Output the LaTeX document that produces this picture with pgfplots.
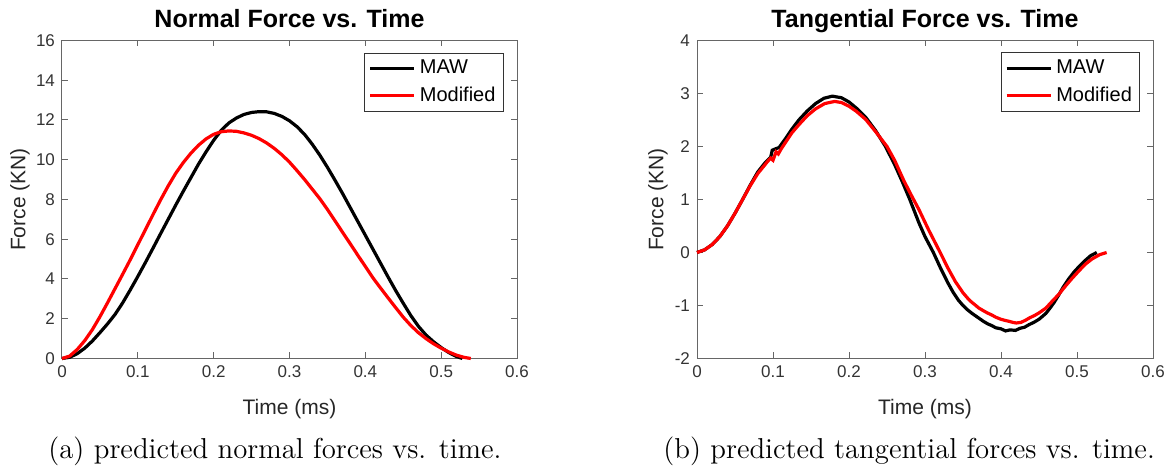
\documentclass[border=0pt]{standalone}
\usepackage{fontspec}
\usepackage{pgfplots}
\pgfplotsset{compat=1.18}
\newfontfamily\arial{Liberation Sans}
\definecolor{mred}{RGB}{255,0,0}
\pgfplotsset{mstyle/.style={
  scale only axis, height=159pt, clip=false,
  xmin=0, xmax=0.6,
  xtick={0,0.1,0.2,0.3,0.4,0.5,0.6},
  xticklabels={0,0.1,0.2,0.3,0.4,0.5,0.6},
  axis line style={black!60, line width=0.5pt},
  tick style={black!60, line width=0.5pt},
  major tick length=3pt,
  tick align=inside, xtick pos=both, ytick pos=both,
  ticklabel style={font=\arial\fontsize{8.5}{10}\selectfont, text=black!80},
  /pgf/number format/assume math mode=true,
  label style={font=\arial\fontsize{10.5}{12}\selectfont, text=black!85},
  xlabel style={at={([yshift=-28pt]axis description cs:0.5,0)}, anchor=base},
  every axis title/.style={font=\arial\bfseries\fontsize{12.5}{14}\selectfont, at={(axis description cs:0.5,1)}, anchor=base, yshift=6.5pt},
  legend style={draw=black!80, line width=0.5pt, fill=white,
     font=\arial\fontsize{10}{12}\selectfont, inner xsep=2pt, inner ysep=1.5pt,
     row sep=1pt, /tikz/every even column/.append style={column sep=2pt}},
  legend cell align=left,
  legend image code/.code={\draw[#1] (0pt,0pt) -- (22pt,0pt);},
  every axis plot/.append style={line width=1.6pt}
}}
\begin{document}
\begin{tikzpicture}
\useasboundingbox (0,0) rectangle (583.5pt,233pt);
\begin{axis}[mstyle, at={(31pt,53.75pt)}, anchor=south west, width=227.5pt,
  ymin=0, ymax=16, ytick={0,2,4,6,8,10,12,14,16},
  yticklabels={0,2,4,6,8,10,12,14,16},
  ylabel style={at={([xshift=-21pt]axis description cs:0,0.5)}, anchor=center},
  title={Normal Force vs. Time}, xlabel={Time (ms)}, ylabel={Force (KN)},
  legend style={at={(0.9714,0.962)}, anchor=north east}]
\addplot[black] coordinates {
(0,0) (0.01,0.06) (0.02,0.24) (0.03,0.52) (0.04,0.88) (0.05,1.30) (0.06,1.74)
(0.07,2.22) (0.08,2.80) (0.09,3.45) (0.10,4.13) (0.11,4.83) (0.12,5.55) (0.13,6.28)
(0.14,7.00) (0.15,7.72) (0.16,8.42) (0.17,9.10) (0.18,9.78) (0.19,10.40) (0.20,10.98)
(0.21,11.48) (0.22,11.85) (0.23,12.10) (0.24,12.28) (0.25,12.38) (0.26,12.42) (0.27,12.41)
(0.28,12.33) (0.29,12.18) (0.30,11.96) (0.31,11.66) (0.32,11.27) (0.33,10.78) (0.34,10.23)
(0.35,9.62) (0.36,8.97) (0.37,8.30) (0.38,7.60) (0.39,6.90) (0.40,6.20) (0.41,5.50)
(0.42,4.80) (0.43,4.10) (0.44,3.42) (0.45,2.78) (0.46,2.16) (0.47,1.62) (0.48,1.18)
(0.49,0.84) (0.50,0.55) (0.51,0.30) (0.52,0.10) (0.528,0)};
\addlegendentry{MAW}
\addplot[mred] coordinates {
(0,0) (0.01,0.12) (0.02,0.45) (0.03,0.90) (0.04,1.45) (0.05,2.10) (0.06,2.80)
(0.07,3.52) (0.08,4.24) (0.09,4.97) (0.10,5.73) (0.11,6.48) (0.12,7.24) (0.13,7.98)
(0.14,8.68) (0.15,9.32) (0.16,9.86) (0.17,10.33) (0.18,10.73) (0.19,11.05) (0.20,11.28)
(0.21,11.41) (0.22,11.45) (0.23,11.43) (0.24,11.35) (0.25,11.23) (0.26,11.06) (0.27,10.84)
(0.28,10.57) (0.29,10.25) (0.30,9.88) (0.31,9.45) (0.32,9.00) (0.33,8.52) (0.34,8.04)
(0.35,7.50) (0.36,6.93) (0.37,6.35) (0.38,5.78) (0.39,5.20) (0.40,4.63) (0.41,4.06)
(0.42,3.55) (0.43,3.05) (0.44,2.56) (0.45,2.08) (0.46,1.66) (0.47,1.30) (0.48,1.00)
(0.49,0.74) (0.50,0.52) (0.51,0.33) (0.52,0.17) (0.53,0.06) (0.539,0)};
\addlegendentry{Modified}
\end{axis}
\begin{axis}[mstyle, at={(348.5pt,53.75pt)}, anchor=south west, width=228pt,
  ymin=-2, ymax=4, ytick={-2,-1,0,1,2,3,4},
  yticklabels={-2,-1,0,1,2,3,4},
  ylabel style={at={([xshift=-19.5pt]axis description cs:0,0.5)}, anchor=center},
  title={Tangential Force vs. Time}, xlabel={Time (ms)}, ylabel={Force (KN)},
  legend style={at={(0.9724,0.963)}, anchor=north east}]
\addplot[black] coordinates {
(0,0) (0.01,0.05) (0.02,0.15) (0.03,0.30) (0.04,0.50) (0.05,0.74) (0.06,1.00)
(0.07,1.27) (0.08,1.52) (0.09,1.70) (0.097,1.80) (0.099,1.93) (0.104,1.96) (0.108,1.98)
(0.117,2.16) (0.125,2.33) (0.134,2.50) (0.145,2.67) (0.156,2.81) (0.167,2.91) (0.178,2.95)
(0.19,2.92) (0.20,2.84) (0.21,2.72) (0.222,2.55) (0.235,2.30) (0.248,2.00) (0.26,1.66)
(0.27,1.34) (0.28,1.00) (0.292,0.56) (0.30,0.30) (0.311,0.00) (0.32,-0.28) (0.33,-0.57)
(0.337,-0.75) (0.344,-0.90) (0.35,-1.00) (0.355,-1.07) (0.362,-1.15) (0.371,-1.24)
(0.377,-1.30) (0.383,-1.35) (0.388,-1.38) (0.393,-1.42) (0.40,-1.44) (0.406,-1.48)
(0.412,-1.46) (0.419,-1.47) (0.425,-1.43) (0.431,-1.41) (0.437,-1.36) (0.443,-1.32)
(0.45,-1.26) (0.459,-1.15) (0.465,-1.04) (0.47,-0.94) (0.476,-0.80) (0.482,-0.65)
(0.489,-0.50) (0.496,-0.37) (0.503,-0.26) (0.51,-0.16) (0.518,-0.06) (0.526,0)};
\addlegendentry{MAW}
\addplot[mred] coordinates {
(0,0) (0.01,0.05) (0.02,0.15) (0.03,0.30) (0.04,0.50) (0.05,0.74) (0.06,1.00)
(0.07,1.26) (0.08,1.49) (0.093,1.72) (0.097,1.78) (0.100,1.74) (0.104,1.90) (0.107,1.86)
(0.111,1.96) (0.117,2.09) (0.125,2.26) (0.134,2.41) (0.145,2.58) (0.156,2.71) (0.168,2.81)
(0.181,2.85) (0.19,2.83) (0.20,2.76) (0.21,2.66) (0.222,2.51) (0.235,2.28) (0.25,2.00)
(0.26,1.74) (0.272,1.36) (0.282,1.08) (0.292,0.81) (0.305,0.42) (0.32,0.00) (0.33,-0.29)
(0.34,-0.55) (0.35,-0.76) (0.356,-0.86) (0.36,-0.92) (0.366,-0.99) (0.371,-1.05)
(0.377,-1.10) (0.382,-1.14) (0.388,-1.18) (0.393,-1.22) (0.40,-1.26) (0.405,-1.28)
(0.411,-1.30) (0.416,-1.32) (0.42,-1.33) (0.426,-1.32) (0.432,-1.28) (0.438,-1.23)
(0.444,-1.19) (0.45,-1.14) (0.459,-1.05) (0.468,-0.91) (0.476,-0.79) (0.485,-0.63)
(0.494,-0.48) (0.503,-0.34) (0.511,-0.22) (0.52,-0.12) (0.53,-0.04) (0.539,0)};
\addlegendentry{Modified}
\end{axis}
\node[anchor=base west, inner sep=0pt, font=\fontsize{14.4}{17}\selectfont] at (24pt,4pt) {(a) predicted normal forces vs. time.};
\node[anchor=base west, inner sep=0pt, font=\fontsize{14.4}{17}\selectfont] at (331.5pt,4pt) {(b) predicted tangential forces vs. time.};
\end{tikzpicture}
\end{document}
